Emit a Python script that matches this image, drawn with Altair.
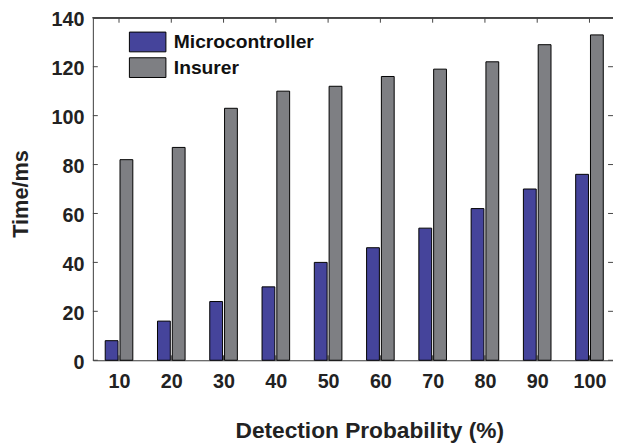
import altair as alt
import pandas as pd

categories = [10, 20, 30, 40, 50, 60, 70, 80, 90, 100]
microcontroller = [8, 16, 24, 30, 40, 46, 54, 62, 70, 76]
insurer = [82, 87, 103, 110, 112, 116, 119, 122, 129, 133]
series_names = ["Microcontroller", "Insurer"]
series_colors = ["#45449b", "#7e7f83"]
y_ticks = [0, 20, 40, 60, 80, 100, 120, 140]

rows = []
for c, m, i in zip(categories, microcontroller, insurer):
    rows.append({"cat": c, "series": "Microcontroller", "value": m})
    rows.append({"cat": c, "series": "Insurer", "value": i})
df = pd.DataFrame(rows)
ydf = pd.DataFrame({"yt": y_ticks})
xdf = pd.DataFrame({"xt": categories})

W, H = 527, 347
FONT = "Liberation Sans"
TXT = "#222222"
AX = "#444444"

xscale = alt.Scale(domain=[5, 104.5], nice=False, zero=False, padding=0)
yscale = alt.Scale(domain=[0, 140], nice=False, padding=0)

bars = alt.Chart(df).transform_calculate(
    x0="datum.cat + (datum.series == 'Microcontroller' ? -2.64 : 0.19)",
    x1="datum.cat + (datum.series == 'Microcontroller' ? -0.19 : 2.64)",
).mark_bar(stroke="black", strokeWidth=1, opacity=1).encode(
    x=alt.X("x0:Q", scale=xscale,
            axis=alt.Axis(values=categories, title="Detection Probability (%)",
                          ticks=False, tickSize=0, labelPadding=12,
                          labelFont=FONT, labelFontSize=20, labelFontWeight="bold",
                          labelColor=TXT, grid=False, domainColor=AX,
                          titleFont=FONT, titleFontSize=23, titleFontWeight="bold",
                          titleColor=TXT, titleX=144, titleY=78, titleAlign="left",
                          titleBaseline="alphabetic")),
    x2="x1:Q",
    y=alt.Y("value:Q", scale=yscale,
            axis=alt.Axis(values=y_ticks, title="Time/ms", ticks=False, tickSize=0,
                          labelPadding=9, labelOffset=2, labelFont=FONT,
                          labelFontSize=20, labelFontWeight="bold", labelColor=TXT,
                          grid=False, domainColor=AX, titleFont=FONT,
                          titleFontSize=22, titleFontWeight="bold", titleColor=TXT,
                          titleX=-66, titleY=178, titleAngle=270,
                          titleAlign="center", titleBaseline="alphabetic")),
    y2=alt.datum(0),
    color=alt.Color("series:N",
                    scale=alt.Scale(domain=series_names, range=series_colors),
                    sort=series_names,
                    legend=alt.Legend(orient="none", legendX=45, legendY=14,
                                      title=None, padding=0,
                                      symbolType="M-1.85,-1H1.85V1H-1.85Z",
                                      symbolSize=400, symbolStrokeColor="black",
                                      symbolStrokeWidth=1, symbolOpacity=1,
                                      labelFont=FONT, labelFontSize=19.5,
                                      labelFontWeight="bold", labelColor="#111111",
                                      labelOffset=16, rowPadding=1)),
)

left_ticks = alt.Chart(ydf).mark_rule(color=AX, strokeWidth=1).encode(
    y=alt.Y("yt:Q", scale=yscale), x=alt.value(0), x2=alt.value(5))
right_ticks = alt.Chart(ydf).mark_rule(color=AX, strokeWidth=1).encode(
    y=alt.Y("yt:Q", scale=yscale), x=alt.value(W - 5), x2=alt.value(W))
top_ticks = alt.Chart(xdf).mark_rule(color=AX, strokeWidth=1).encode(
    x=alt.X("xt:Q", scale=xscale), y=alt.value(0), y2=alt.value(5))
bottom_ticks = alt.Chart(xdf).mark_rule(color=AX, strokeWidth=1).encode(
    x=alt.X("xt:Q", scale=xscale), y=alt.value(H - 5), y2=alt.value(H))
top_line = alt.Chart(xdf).mark_rule(color=AX, strokeWidth=1).encode(
    x=alt.value(0), x2=alt.value(W), y=alt.value(0))

chart = alt.layer(bottom_ticks, bars, left_ticks, right_ticks, top_ticks, top_line).properties(
    width=W, height=H,
    padding={"left": 86, "top": 7, "right": 0, "bottom": 86},
    autosize=alt.AutoSizeParams(type="none"),
).configure_view(stroke=None).configure(background="white")

chart.save("out.html", embed_options={"renderer": "svg", "actions": False})
